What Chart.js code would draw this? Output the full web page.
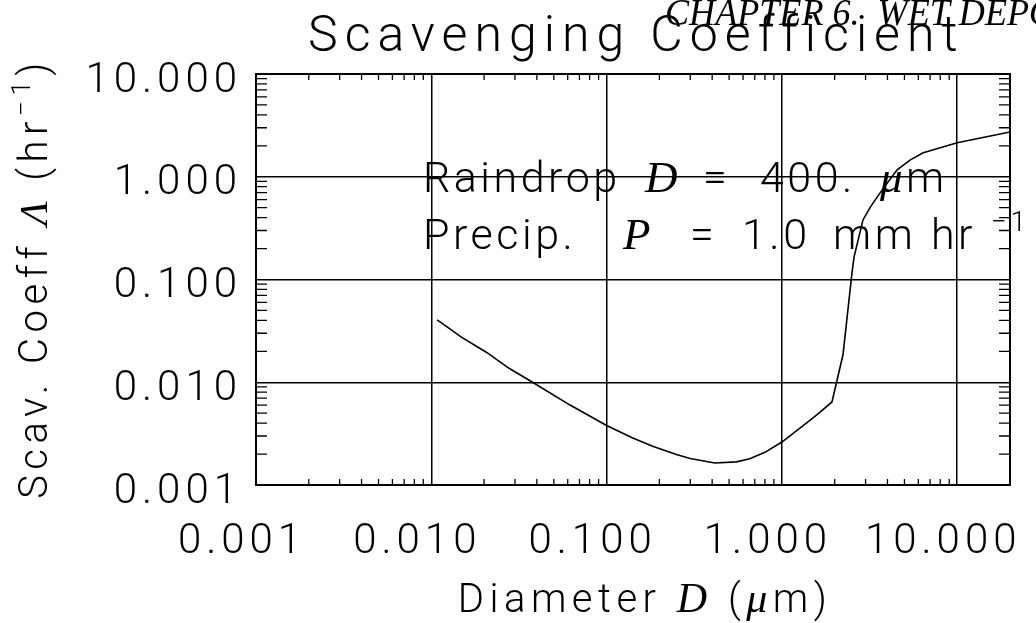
<!DOCTYPE html>
<html>
<head>
<meta charset="utf-8">
<script src="https://cdn.jsdelivr.net/npm/chart.js@4.4.1/dist/chart.umd.min.js"></script>
<style>
  html, body { margin: 0; padding: 0; background: #fff; }
</style>
</head>
<body>
<canvas id="scav_chart" width="1036" height="623"></canvas>
<script>
// particle diameter (um) and scavenging coefficient (1/hr)
const diameter  = [0.0108, 0.015, 0.0206, 0.0279, 0.0378, 0.0615, 0.1, 0.14, 0.183, 0.25, 0.3, 0.414, 0.55, 0.656, 0.8, 1.0, 1.39, 1.6, 1.93, 2.23, 2.51, 2.58, 2.9, 3.2, 3.63, 4.54, 5.4, 6.4, 10, 20];
const scavCoeff = [0.0404, 0.0272, 0.0196, 0.0136, 0.010, 0.00603, 0.0038, 0.00288, 0.00238, 0.00198, 0.00181, 0.00164, 0.00168, 0.00180, 0.00208, 0.00262, 0.00405, 0.00490, 0.00643, 0.0185, 0.116, 0.166, 0.380, 0.509, 0.697, 1.17, 1.46, 1.71, 2.14, 2.73];

const xTicks = [0.001, 0.01, 0.1, 1, 10];
const yTicks = [0.001, 0.01, 0.1, 1, 10];
const xRange = [0.001, 20];
const yRange = [0.001, 10];

const titleText = 'Scavenging Coefficient';
const headerText = 'CHAPTER 6.  WET DEPOSITION';

const SANS = 'Roboto';
const SERIF = '"Liberation Serif"';

// draw text made of several runs (plain / italic / superscript)
// a run with its own x is placed there, otherwise it follows the previous one
function drawRuns(ctx, runs, x, y, align, spacing) {
  ctx.letterSpacing = spacing + 'px';
  let total = 0;
  runs.forEach(r => { ctx.font = r.font; total += ctx.measureText(r.t).width; });
  let cx = align === 'center' ? x - total / 2 : x;
  runs.forEach(r => {
    ctx.font = r.font;
    if (r.x !== undefined) cx = r.x;
    ctx.fillText(r.t, cx, y + (r.dy || 0));
    cx += ctx.measureText(r.t).width;
  });
}

const framePlugin = {
  id: 'frame',
  beforeDraw(chart) {
    chart.ctx.letterSpacing = '5px';
  },
  afterDraw(chart) {
    const { ctx, chartArea: { top, bottom, left, right }, scales: { x, y } } = chart;
    ctx.save();
    ctx.strokeStyle = '#000';
    ctx.fillStyle = '#000';

    // box
    ctx.lineWidth = 2;
    ctx.strokeRect(left, top, right - left, bottom - top);

    // minor ticks
    ctx.lineWidth = 1.3;
    ctx.beginPath();
    xTicks.forEach(d => {
      for (let k = 2; k <= 9; k++) {
        const v = d * k;
        if (v > xRange[1]) break;
        const px = x.getPixelForValue(v);
        ctx.moveTo(px, bottom); ctx.lineTo(px, bottom - 6);
        ctx.moveTo(px, top); ctx.lineTo(px, top + 6);
      }
    });
    yTicks.forEach(d => {
      for (let k = 2; k <= 9; k++) {
        const v = d * k;
        if (v > yRange[1]) break;
        const py = y.getPixelForValue(v);
        ctx.moveTo(left, py); ctx.lineTo(left + 11, py);
        ctx.moveTo(right, py); ctx.lineTo(right - 11, py);
      }
    });
    ctx.stroke();

    ctx.textAlign = 'left';
    ctx.textBaseline = 'alphabetic';

    // title
    drawRuns(ctx, [{ t: titleText, font: '300 50px ' + SANS }], 308, 51, 'left', 7);

    // page header (cut by the page edge), tall and narrow
    ctx.save();
    ctx.translate(665, 25);
    ctx.scale(0.95, 1);
    drawRuns(ctx, [{ t: headerText, font: 'italic 38px ' + SERIF }], 0, 0, 'left', 0);
    ctx.restore();

    // annotation
    const f = '300 43px ' + SANS;
    const fi = 'italic 45px ' + SERIF;
    drawRuns(ctx, [
      { t: 'Raindrop', font: f, x: 423 }, { t: 'D', font: fi, x: 645 }, { t: '=', font: f, x: 703 },
      { t: '400.', font: f, x: 760 }, { t: 'μ', font: fi, x: 880 }, { t: 'm', font: f }
    ], 0, 192, 'left', 3.5);
    drawRuns(ctx, [
      { t: 'Precip.', font: f, x: 423 }, { t: 'P', font: fi, x: 623 }, { t: '=', font: f, x: 690 },
      { t: '1.0', font: f, x: 742 }, { t: 'mm', font: f, x: 833 }, { t: 'hr', font: f, x: 931 },
      { t: '−1', font: '300 28px ' + SANS, dy: -18, x: 991 }
    ], 0, 249, 'left', 3.5);

    // x axis title
    const fx = '300 40px ' + SANS;
    drawRuns(ctx, [
      { t: 'Diameter ', font: fx }, { t: 'D', font: 'italic 42px ' + SERIF },
      { t: ' (', font: fx }, { t: 'μ', font: 'italic 42px ' + SERIF }, { t: 'm)', font: fx }
    ], 645, 612, 'center', 5.5);

    // y axis title
    ctx.translate(47, 278);
    ctx.rotate(-Math.PI / 2);
    drawRuns(ctx, [
      { t: 'Scav. Coeff ', font: fx }, { t: 'Λ', font: 'italic 40px ' + SERIF },
      { t: ' (hr', font: fx }, { t: '−1', font: '300 26px ' + SANS, dy: -17 }, { t: ')', font: fx }
    ], 0, 0, 'center', 5.5);

    ctx.restore();
  }
};

new Chart(document.getElementById('scav_chart'), {
  type: 'line',
  data: {
    datasets: [{
      data: diameter.map((d, i) => ({ x: d, y: scavCoeff[i] })),
      borderColor: '#000',
      borderWidth: 1.6,
      pointRadius: 0,
      tension: 0,
      fill: false
    }]
  },
  options: {
    responsive: false,
    animation: false,
    layout: { padding: { top: 74, right: 26, left: 0, bottom: 0 } },
    plugins: { legend: { display: false }, title: { display: false }, tooltip: { enabled: false } },
    scales: {
      x: {
        type: 'logarithmic',
        min: xRange[0],
        max: xRange[1],
        afterBuildTicks: s => { s.ticks = xTicks.map(v => ({ value: v })); },
        afterFit: s => { s.height = 138; s.paddingLeft = 0; s.paddingRight = 0; },
        ticks: {
          callback: v => Number(v).toFixed(3),
          color: '#000',
          font: { family: SANS, size: 42, weight: 300 },
          padding: 32,
          labelOffset: -14,
          maxRotation: 0,
          autoSkip: false
        },
        grid: { color: '#000', lineWidth: 1.5, drawTicks: false },
        border: { color: '#000', width: 2 }
      },
      y: {
        type: 'logarithmic',
        min: yRange[0],
        max: yRange[1],
        afterBuildTicks: s => { s.ticks = yTicks.map(v => ({ value: v })); },
        afterFit: s => { s.width = 256; s.paddingTop = 0; s.paddingBottom = 0; },
        ticks: {
          callback: v => Number(v).toFixed(3),
          color: '#000',
          font: { family: SANS, size: 42, weight: 300 },
          padding: 14,
          labelOffset: 7,
          autoSkip: false
        },
        grid: { color: '#000', lineWidth: 1.5, drawTicks: false },
        border: { color: '#000', width: 2 }
      }
    }
  },
  plugins: [framePlugin]
});
</script>
</body>
</html>
